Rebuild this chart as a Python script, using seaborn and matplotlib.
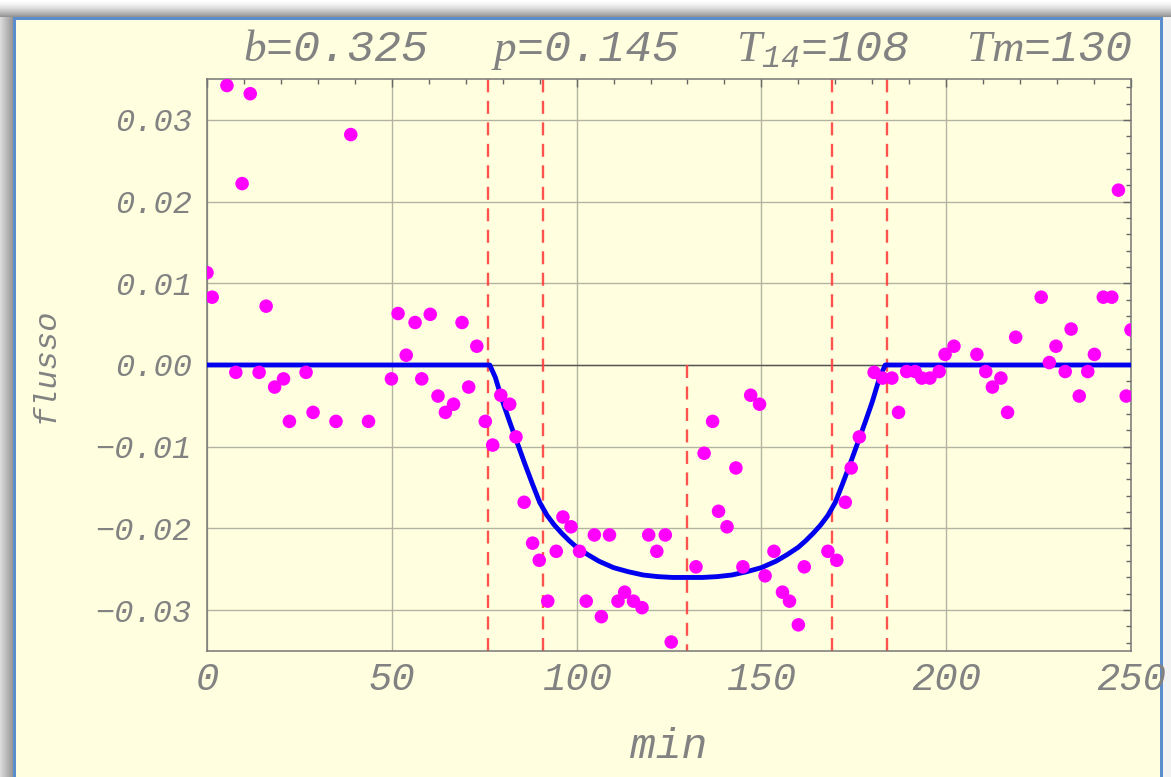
import numpy as np
import matplotlib
matplotlib.use("Agg")
import matplotlib.pyplot as plt
import pandas as pd
import seaborn as sns

T_OBS = [0.0, 1.4, 5.4, 7.8, 9.5, 11.7, 14.1, 16.0, 18.3, 20.7, 22.3, 26.8, 28.7,
         34.9, 38.9, 43.7, 49.9, 51.7, 53.9, 56.3, 58.1, 60.4, 62.5, 64.5, 66.7,
         69.0, 70.8, 73.0, 75.3, 77.3, 79.5, 81.9, 83.6, 85.8, 88.1, 89.9, 92.2,
         94.5, 96.3, 98.5, 100.8, 102.6, 104.8, 106.7, 108.9, 111.2, 113.0, 115.4,
         117.7, 119.5, 121.7, 124.0, 125.6, 132.3, 134.5, 136.8, 138.4, 140.7,
         143.1, 145.0, 147.1, 149.5, 151.0, 153.4, 155.7, 157.6, 160.0, 161.6,
         168.0, 170.4, 172.7, 174.3, 176.5, 180.5, 182.8, 185.3, 187.1, 189.3,
         191.6, 193.4, 195.6, 198.1, 199.7, 202.1, 208.3, 210.7, 212.5, 214.8,
         216.6, 218.8, 225.7, 227.9, 229.7, 232.2, 233.8, 236.0, 238.3, 240.1,
         242.5, 244.8, 246.6, 248.7, 250.0]
F_OBS = [0.0113, 0.0083, 0.0342, -0.0009, 0.0222, 0.0332, -0.0009, 0.0072, -0.0027,
         -0.0017, -0.0069, -0.0009, -0.0058, -0.0069, 0.0282, -0.0069, -0.0017,
         0.0063, 0.0012, 0.0052, -0.0017, 0.0062, -0.0038, -0.0058, -0.0048, 0.0052,
         -0.0027, 0.0023, -0.0069, -0.0098, -0.0037, -0.0048, -0.0088, -0.0168,
         -0.0218, -0.0239, -0.0289, -0.0228, -0.0186, -0.0198, -0.0228, -0.0289,
         -0.0208, -0.0308, -0.0208, -0.0289, -0.0278, -0.0289, -0.0297, -0.0208,
         -0.0228, -0.0208, -0.0339, -0.0247, -0.0108, -0.0069, -0.0179, -0.0198,
         -0.0126, -0.0247, -0.0037, -0.0048, -0.0258, -0.0228, -0.0278, -0.0289,
         -0.0318, -0.0247, -0.0228, -0.0239, -0.0168, -0.0126, -0.0088, -0.0009,
         -0.0016, -0.0016, -0.0058, -0.0008, -0.0008, -0.0016, -0.0016, -0.0008,
         0.0013, 0.0023, 0.0013, -0.0008, -0.0027, -0.0016, -0.0058, 0.0034, 0.0083,
         0.0003, 0.0023, -0.0008, 0.0044, -0.0038, -0.0008, 0.0013, 0.0083, 0.0083,
         0.0214, -0.0038, 0.0043]

# fitted transit model
T_MODEL = [0, 76.5, 78, 80, 82, 84, 86, 88, 90, 92, 94, 96, 98, 100, 103, 106, 110,
           114, 118, 122, 126, 130, 134, 138, 142, 146, 150, 154, 157, 160, 162,
           164, 166, 168, 170, 172, 174, 176, 178, 180, 182, 183.5, 250]
F_MODEL = [0, 0, -0.0015, -0.0045, -0.0071, -0.0096, -0.0121, -0.0145, -0.0168,
           -0.0184, -0.0196, -0.0206, -0.0215, -0.0223, -0.0232, -0.0240, -0.0248,
           -0.0253, -0.0257, -0.0259, -0.0260, -0.0260, -0.0260, -0.0259, -0.0257,
           -0.0253, -0.0248, -0.0240, -0.0232, -0.0223, -0.0215, -0.0206, -0.0196,
           -0.0184, -0.0168, -0.0145, -0.0121, -0.0096, -0.0071, -0.0045, -0.0015,
           0, 0]

CONTACTS = [76, 91, 169, 184]
T_MID = 130
TITLE_PARTS = ["$b$=0.325", "$p$=0.145", "$T_{14}$=108", "$Tm$=130"]
TITLE_X = [243, 491, 736, 966]
X_TICKS = [0, 50, 100, 150, 200, 250]
Y_TICKS = [-0.03, -0.02, -0.01, 0.0, 0.01, 0.02, 0.03]
Y_TICK_LABELS = ["\u22120.03", "\u22120.02", "\u22120.01", "0.00", "0.01", "0.02", "0.03"]

W, H = 1171, 777
PANEL = (1.0, 1.0, 0.875)
GREY_TXT = "#828282"
DASH = (0, (5.5, 3.6))

sns.set_style("white")
plt.rcParams["font.family"] = ["Liberation Mono", "DejaVu Sans"]
plt.rcParams["font.style"] = "italic"
plt.rcParams["mathtext.fontset"] = "custom"
plt.rcParams["mathtext.it"] = "Liberation Serif:italic"
plt.rcParams["mathtext.rm"] = "Liberation Mono:italic"
plt.rcParams["axes.unicode_minus"] = True

fig = plt.figure(figsize=(W / 100, H / 100), dpi=100)

# notebook-style panel with drop shadow
yy, xx = np.mgrid[0:H, 0:W]
shade = np.ones((H, W))
top = yy < 17
shade[top] = 1 - 0.42 * (yy[top] / 16.0) ** 1.5
left = (xx < 13) & ~top
shade[left] = 0.86 - 0.26 * xx[left] / 12.0
shade[(xx >= 1163) & ~top] = 0.95
bg = np.repeat(shade[:, :, None], 3, axis=2)
bg[20:, 16:1160] = PANEL
blue = (0.36, 0.55, 0.80)
bg[17:20, 13:1163] = blue
bg[17:, 13:16] = blue
bg[17:, 1160:1163] = blue
bax = fig.add_axes([0, 0, 1, 1], zorder=-5)
bax.imshow(bg, aspect="auto", interpolation="bilinear")
bax.axis("off")

ax = fig.add_axes([207 / W, 1 - 651 / H, (1131 - 207) / W, (651 - 79) / H])
ax.set_facecolor(PANEL)

obs = pd.DataFrame({"t": T_OBS, "flux": F_OBS})
model = pd.DataFrame({"t": T_MODEL, "flux": F_MODEL})

ax.axhline(0, color="#555555", lw=1.0, zorder=1)
for tc in CONTACTS:
    ax.axvline(tc, color="#ff4040", lw=1.7, ls=DASH, alpha=0.9, zorder=2)
ax.plot([T_MID, T_MID], [0, -0.035], color="#ff4040", lw=1.7, ls=DASH,
        alpha=0.9, zorder=2)

sns.lineplot(data=model, x="t", y="flux", sort=False, estimator=None,
             color="#0000ee", lw=3.5, ax=ax, zorder=3)
sns.scatterplot(data=obs, x="t", y="flux", color="#ff00ff", s=95, edgecolor="none",
                ax=ax, zorder=4, clip_on=True)

ax.set_xlim(0, 250)
ax.set_ylim(-0.035, 0.035)
ax.set_xticks(X_TICKS)
ax.set_xticklabels([str(v) for v in X_TICKS])
ax.set_yticks(Y_TICKS)
ax.set_yticklabels(Y_TICK_LABELS)
ax.set_xticks(np.arange(0, 251, 10), minor=True)
ax.set_yticks(np.arange(-0.034, 0.0351, 0.002), minor=True)
ax.grid(True, which="major", color=(0.70, 0.70, 0.64), lw=1.0, zorder=0)
ax.set_axisbelow(True)

for s in ax.spines.values():
    s.set_color("#777777")
    s.set_linewidth(1.1)
ax.tick_params(which="both", direction="in", top=True, right=True, color="#666666",
               width=1.0)
ax.tick_params(which="major", length=5.5)
ax.tick_params(which="minor", length=3.3)
ax.tick_params(axis="y", labelsize=23, labelcolor=GREY_TXT, pad=11)
ax.tick_params(axis="x", labelsize=28, labelcolor=GREY_TXT, pad=8)

ax.set_xlabel("min", fontsize=31, color=GREY_TXT, va="center")
ax.xaxis.set_label_coords(0.5, -0.168)
ax.set_ylabel("flusso", fontsize=23, color=GREY_TXT, va="center")
ax.yaxis.set_label_coords(-0.175, 0.5)

for txt, x0 in zip(TITLE_PARTS, TITLE_X):
    fig.text(x0 / W, 1 - 61 / H, txt, fontsize=32.5, color=GREY_TXT, ha="left",
             va="baseline")

fig.savefig("out.png", dpi=100)
